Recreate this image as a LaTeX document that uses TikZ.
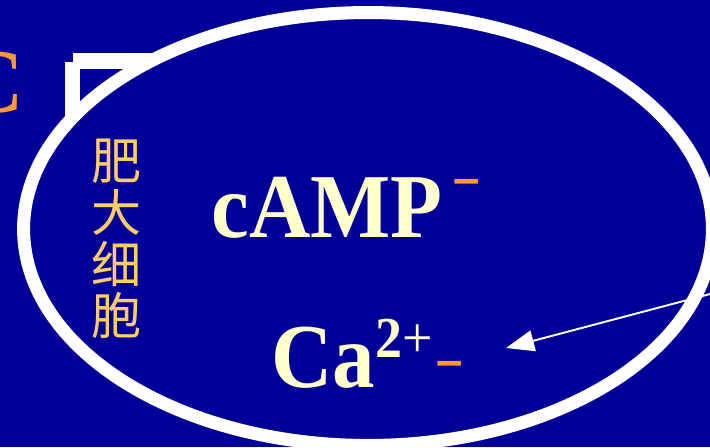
\documentclass[tikz,border=0pt]{standalone}
\usepackage{fontspec}
\setmainfont{Liberation Serif}
\newfontfamily\cjkfont{Noto Sans CJK SC}
\newfontfamily\dashfont{Liberation Sans}
\usepackage{graphicx}
\usetikzlibrary{arrows.meta,positioning,shapes.geometric}
\definecolor{slideblue}{HTML}{000099}
\definecolor{textyellow}{HTML}{FFFFCC}
\definecolor{minusorange}{HTML}{FF9933}
\definecolor{cjkorange}{HTML}{FFCC66}

\begin{document}
\begin{tikzpicture}[
  x=0.02cm, y=-0.02cm,
  cellshape/.style={ellipse, draw=white, fill=slideblue, line width=7.4pt, inner sep=0pt,
    outer sep=0pt, minimum width=13.78cm, minimum height=8.66cm},
  bigtext/.style={inner sep=0pt, text=textyellow, font=\fontsize{52}{52}\selectfont\bfseries},
  minus/.style={inner sep=0pt, text=minusorange, font=\dashfont\fontsize{27}{27}\selectfont\bfseries},
  cjktext/.style={inner sep=0pt, text=cjkorange, align=center, font=\cjkfont\fontsize{28.5}{29.5}\selectfont},
  arrow/.style={-{Triangle[length=16pt,width=12pt]}, white, line width=1.1pt}
]

% 背景
\useasboundingbox (0,0) rectangle (710,447);
\fill[slideblue] (0,0) rectangle (710,447);

% 左上（切れた文字と枠）
\node[bigtext, text=minusorange, anchor=base east] (leftc) at (24,112) {\scalebox{0.93}[1]{C}};
\draw[white, line width=9.2pt] (73,61) -- (220,61);
\draw[white, line width=8.5pt] (72.5,61.7) -- (72.5,220);

% 細胞
\node[cellshape] (mastcell) at (368,229) {};
\node[cjktext] (celllabel) at (117,239) {肥\\大\\细\\胞};

% 内容
\node[bigtext, anchor=base west] (camp) at (211,237) {\scalebox{0.93}[1]{cAMP}};
\node[minus, anchor=base] (campminus) at (466.5,194) {–};
\node[bigtext, anchor=base west] (ca) at (271,387)
  {\scalebox{0.93}[1]{Ca\raisebox{17pt}{\fontsize{33}{33}\selectfont 2\mdseries+}}};
\node[minus, anchor=base] (caminus) at (450,376) {–};

% 矢印
\coordinate (arrowstart) at (715,292.7);
\coordinate (catip) at (506,348);
\draw[arrow] (arrowstart) -- (catip);

\end{tikzpicture}
\end{document}
